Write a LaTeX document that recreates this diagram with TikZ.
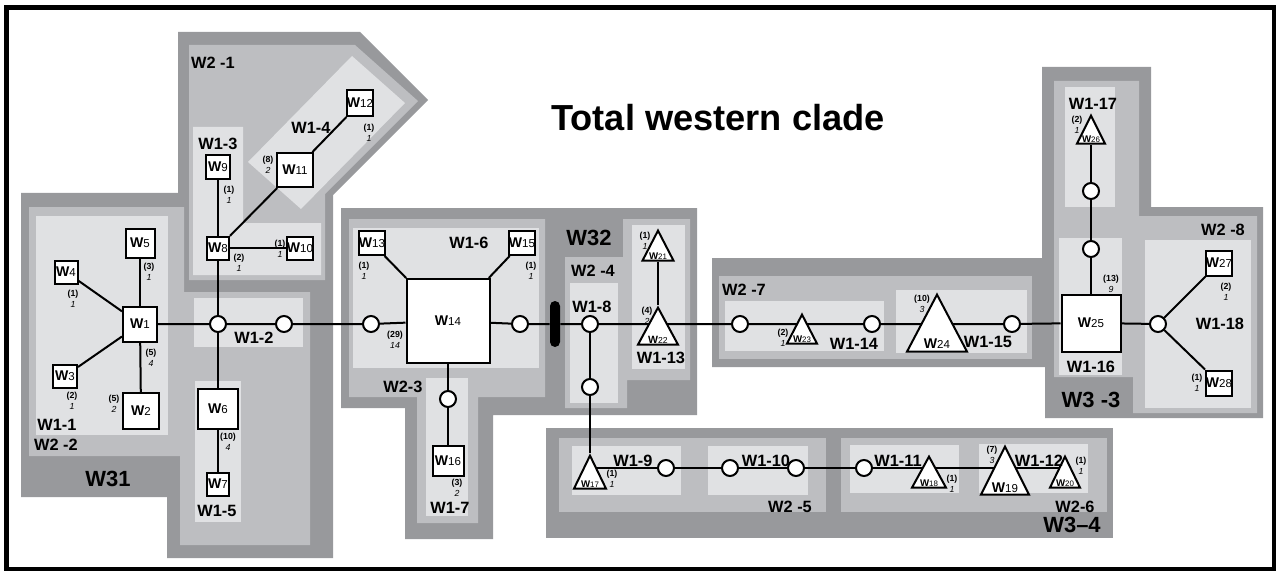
\documentclass[tikz,border=0pt]{standalone}
\usepackage{fontspec}
\setmainfont{Liberation Sans}
\usetikzlibrary{shapes.geometric}
\definecolor{grisosc}{RGB}{152,153,156}
\definecolor{grismed}{RGB}{189,190,193}
\definecolor{grisclr}{RGB}{224,225,227}
\pgfdeclarelayer{fondo}
\pgfdeclarelayer{lineas}
\pgfsetlayers{fondo,lineas,main}
\newcommand{\Wn}[1]{\textbf{W}\scalebox{0.82}{#1}}

\begin{document}
\begin{tikzpicture}[
  x=0.2mm, y=-0.2mm,
  cuad/.style 2 args={draw, fill=white, line width=0.4mm, inner sep=0pt,
    minimum width=#1*0.2mm, minimum height=#2*0.2mm, font=\fontsize{8}{9}\selectfont},
  circ/.style={circle, draw, fill=white, line width=0.4mm, inner sep=0pt, minimum size=3.2mm},
  tri/.style 2 args={isosceles triangle, isosceles triangle stretches, shape border rotate=90,
    draw, fill=white, line width=0.4mm, inner sep=0pt, anchor=apex,
    minimum width=#1*0.2mm, minimum height=#2*0.2mm},
  trilab/.style={anchor=south, inner sep=0.8pt, font=\fontsize{6}{7}\selectfont},
  rama/.style={line width=0.4mm},
  zona/.style={font=\fontsize{9.3}{10}\selectfont\bfseries, inner sep=0pt},
  grupo/.style={font=\fontsize{12.5}{14}\selectfont\bfseries, inner sep=0pt},
  etiq/.style={font=\fontsize{5}{6.5}\selectfont\bfseries, align=center, inner sep=0pt}
]
  \useasboundingbox (0,0) rectangle (1277,571);

  \begin{pgfonlayer}{fondo}
  % --- zonas W3 (gris oscuro)
  \fill[grisosc] (21,193) -- (178,193) -- (178,32) -- (360,32) -- (428,100) -- (333,195)
    -- (333,558) -- (167,558) -- (167,497) -- (21,497) -- cycle;
  \fill[grisosc] (341,208) -- (697,208) -- (697,415) -- (493,415) -- (493,539) -- (405,539)
    -- (405,408) -- (341,408) -- cycle;
  \fill[grisosc] (712,258) -- (1042,258) -- (1042,67) -- (1151,67) -- (1151,207) -- (1263,207)
    -- (1263,418) -- (1045,418) -- (1045,367) -- (712,367) -- cycle;
  \fill[grisosc] (546,428) rectangle (1113,538);

  % --- zonas W2
  \fill[grismed] (189,45) -- (355,45) -- (418,101) -- (325,194) -- (325,280) -- (189,280) -- cycle;
  \fill[grismed] (29,207) -- (184,207) -- (184,292) -- (310,292) -- (310,545) -- (180,545)
    -- (180,456) -- (29,456) -- cycle;
  \fill[grismed] (349,219) -- (545,219) -- (545,397) -- (478,397) -- (478,523) -- (417,523)
    -- (417,397) -- (349,397) -- cycle;
  \fill[grismed] (565,257) -- (623,257) -- (623,219) -- (690,219) -- (690,380) -- (627,380)
    -- (627,408) -- (565,408) -- cycle;
  \fill[grismed] (719,276) rectangle (1032,359);
  \fill[grismed] (1054,81) -- (1139,81) -- (1139,216) -- (1257,216) -- (1257,413) -- (1133,413)
    -- (1133,377) -- (1054,377) -- cycle;
  \fill[grismed] (559,438) rectangle (826,512);
  \fill[grismed] (841,438) rectangle (1107,512);

  % --- zonas W1
  \fill[grisclr] (36,216) rectangle (168,435);
  \fill[grisclr] (194,298) rectangle (303,347);
  \fill[grisclr] (193,127) -- (243,127) -- (243,223) -- (321,223) -- (321,275) -- (193,275) -- cycle;
  \fill[grisclr] (248,162) -- (352,56) -- (405,103) -- (301,209) -- cycle;
  \fill[grisclr] (195,381) rectangle (241,522);
  \fill[grisclr] (353,228) rectangle (539,368);
  \fill[grisclr] (426,378) rectangle (468,516);
  \fill[grisclr] (570,283) rectangle (618,403);
  \fill[grisclr] (632,225) rectangle (685,369);
  \fill[grisclr] (725,301) rectangle (884,351);
  \fill[grisclr] (896,290) rectangle (1027,353);
  \fill[grisclr] (1059,238) rectangle (1122,375);
  \fill[grisclr] (1065,87) rectangle (1115,207);
  \fill[grisclr] (1145,240) rectangle (1251,408);
  \fill[grisclr] (572,446) rectangle (681,495);
  \fill[grisclr] (708,446) rectangle (808,495);
  \fill[grisclr] (850,445) rectangle (959,493);
  \fill[grisclr] (979,444) rectangle (1088,493);
  \end{pgfonlayer}

  % --- marco
  \draw[line width=0.9mm] (6.5,7.5) rectangle (1274,569.5);

  % --- titulo
  \node[font=\fontsize{20.6}{24}\selectfont\bfseries] (titulo) at (718,118) {Total western clade};

  % --- W31
  \node[cuad={34}{35}] (W1) at (140,324) {\Wn{1}};
  \node[cuad={36}{36}] (W2) at (141,411) {\Wn{2}};
  \node[cuad={24}{23}] (W3) at (65,376) {\Wn{3}};
  \node[cuad={23}{23}] (W4) at (66,272) {\Wn{4}};
  \node[cuad={29}{29}] (W5) at (140,243) {\Wn{5}};
  \node[cuad={40}{40}] (W6) at (218,409) {\Wn{6}};
  \node[cuad={22}{23}] (W7) at (218,484) {\Wn{7}};
  \node[cuad={22}{23}] (W8) at (218,248) {\Wn{8}};
  \node[cuad={24}{24}] (W9) at (218,167) {\Wn{9}};
  \node[cuad={26}{23}] (W10) at (300,248) {\Wn{10}};
  \node[cuad={36}{34}] (W11) at (295,170) {\Wn{11}};
  \node[cuad={26}{26}] (W12) at (360,103) {\Wn{12}};
  \node[circ] (c1) at (218,324) {};
  \node[circ] (c2) at (284,324) {};

  % --- W32
  \node[circ] (c3) at (371,324) {};
  \node[cuad={83}{84}] (W14) at (448,321) {\Wn{14}};
  \node[cuad={26}{24}] (W13) at (372,243) {\Wn{13}};
  \node[cuad={25}{24}] (W15) at (522,243) {\Wn{15}};
  \node[circ] (c4) at (520,324) {};
  \node[fill=black, rounded corners=1mm, minimum width=2mm, minimum height=9.2mm,
        inner sep=0pt] (barra) at (555,324) {};
  \node[circ] (c7) at (448,399) {};
  \node[cuad={31}{30}] (W16) at (448,461) {\Wn{16}};
  \node[circ] (c5) at (590,324) {};
  \node[circ] (c6) at (590,387) {};
  \node[tri={31}{30}, label={[trilab, font=\fontsize{5.5}{6}\selectfont]below:\Wn{21}}] (W21) at (658,228) {};
  \node[tri={40}{37}, label={[trilab]below:\Wn{22}}] (W22) at (658,305) {};

  % --- W3-3
  \node[circ] (c8) at (740,324) {};
  \node[tri={30}{29}, label={[trilab, font=\fontsize{5.5}{6}\selectfont]below:\Wn{23}}] (W23) at (802,312) {};
  \node[circ] (c9) at (872,324) {};
  \node[tri={60}{57}, label={[trilab, font=\fontsize{8}{9}\selectfont, inner sep=2pt]below:\Wn{24}}] (W24) at (937,292) {};
  \node[circ] (c10) at (1012,324) {};
  \node[cuad={59}{57}] (W25) at (1091,323) {\Wn{25}};
  \node[circ] (c11) at (1158,324) {};
  \node[circ] (c13) at (1091,249) {};
  \node[circ] (c12) at (1091,191) {};
  \node[tri={28}{28}, label={[trilab, font=\fontsize{5.5}{6}\selectfont]below:\Wn{26}}] (W26) at (1091,113) {};
  \node[cuad={26}{25}] (W27) at (1219,263) {\Wn{27}};
  \node[cuad={26}{25}] (W28) at (1219,383) {\Wn{28}};

  % --- W3-4
  \node[tri={32}{33}, label={[trilab, font=\fontsize{5.5}{6}\selectfont]below:\Wn{17}}] (W17) at (590,453) {};
  \node[circ] (c14) at (666,468) {};
  \node[circ] (c15) at (730,468) {};
  \node[circ] (c16) at (796,468) {};
  \node[circ] (c17) at (864,468) {};
  \node[tri={34}{31}, label={[trilab, font=\fontsize{5.5}{6}\selectfont]below:\Wn{18}}] (W18) at (929,454) {};
  \node[tri={48}{48}, label={[trilab, font=\fontsize{8}{9}\selectfont, inner sep=1.5pt]below:\Wn{19}}] (W19) at (1005,444) {};
  \node[tri={30}{31}, label={[trilab, font=\fontsize{5.5}{6}\selectfont]below:\Wn{20}}] (W20) at (1065,454) {};

  % --- ramas
  \begin{pgfonlayer}{lineas}
  \draw[rama] (W1) -- (W4);
  \draw[rama] (W1) -- (W5);
  \draw[rama] (W1) -- (W3);
  \draw[rama] (W1) -- (W2);
  \draw[rama] (c1) -- (W8);
  \draw[rama] (c1) -- (W6) -- (W7);
  \draw[rama] (W8) -- (W9);
  \draw[rama] (W8) -- (W10);
  \draw[rama] (W8) -- (W11) -- (W12);
  \draw[rama] (W1) -- (c1) -- (c2) -- (c3) -- (W14) -- (c4) -- (barra) -- (c5)
    -- (c5 -| W22.apex) -- (c8) -- (c8 -| W23.apex) -- (c9) -- (c9 -| W24.apex)
    -- (c10) -- (W25) -- (c11);
  \draw[rama] (W14) -- (W13);
  \draw[rama] (W14) -- (W15);
  \draw[rama] (W14) -- (c7) -- (W16);
  \draw[rama] (c5) -- (c6) -- (W17.apex);
  \draw[rama] (W21.lower side) -- (W22.apex);
  \draw[rama] (W25) -- (c13) -- (c12) -- (W26.lower side);
  \draw[rama] (c11) -- (W27);
  \draw[rama] (c11) -- (W28);
  \draw[rama] (W17.apex |- c14) -- (c14) -- (c15) -- (c16) -- (c17) -- (W18.apex |- c17)
    -- (W19.apex |- c17) -- (W20.apex |- c17);
  \end{pgfonlayer}

  % --- etiquetas de ramas
  \node[etiq] (e4) at (73,299) {(1)\\{\mdseries\itshape 1}};
  \node[etiq] (e5) at (149,272) {(3)\\{\mdseries\itshape 1}};
  \node[etiq] (e1) at (151,358) {(5)\\{\mdseries\itshape 4}};
  \node[etiq] (e3) at (72,401) {(2)\\{\mdseries\itshape 1}};
  \node[etiq] (e2) at (114,404) {(5)\\{\mdseries\itshape 2}};
  \node[etiq] (e7) at (228,442) {(10)\\{\mdseries\itshape 4}};
  \node[etiq] (e9) at (229,195) {(1)\\{\mdseries\itshape 1}};
  \node[etiq] (e10) at (280,249) {(1)\\{\mdseries\itshape 1}};
  \node[etiq] (e8) at (239,263) {(2)\\{\mdseries\itshape 1}};
  \node[etiq] (e11) at (268,165) {(8)\\{\mdseries\itshape 2}};
  \node[etiq] (e12) at (369,133) {(1)\\{\mdseries\itshape 1}};
  \node[etiq] (e13) at (364,271) {(1)\\{\mdseries\itshape 1}};
  \node[etiq] (e15) at (531,271) {(1)\\{\mdseries\itshape 1}};
  \node[etiq] (e14) at (395,340) {(29)\\{\mdseries\itshape 14}};
  \node[etiq] (e16) at (457,488) {(3)\\{\mdseries\itshape 2}};
  \node[etiq] (e21) at (645,241) {(1)\\{\mdseries\itshape 1}};
  \node[etiq] (e22) at (647,316) {(4)\\{\mdseries\itshape 2}};
  \node[etiq] (e23) at (783,338) {(2)\\{\mdseries\itshape 1}};
  \node[etiq] (e24) at (922,304) {(10)\\{\mdseries\itshape 3}};
  \node[etiq] (e25) at (1111,284) {(13)\\{\mdseries\itshape 9}};
  \node[etiq] (e26) at (1077,125) {(2)\\{\mdseries\itshape 1}};
  \node[etiq] (e27) at (1226,292) {(2)\\{\mdseries\itshape 1}};
  \node[etiq] (e28) at (1197,383) {(1)\\{\mdseries\itshape 1}};
  \node[etiq] (e17) at (612,479) {(1)\\{\mdseries\itshape 1}};
  \node[etiq] (e18) at (952,484) {(1)\\{\mdseries\itshape 1}};
  \node[etiq] (e19) at (992,455) {(7)\\{\mdseries\itshape 3}};
  \node[etiq] (e20) at (1081,466) {(1)\\{\mdseries\itshape 1}};

  % --- nombres de zonas
  \node[zona] (z21) at (213,63) {W2 -1};
  \node[zona] (z13) at (218,144) {W1-3};
  \node[zona] (z14) at (311,128) {W1-4};
  \node[zona] (z11) at (57,425) {W1-1};
  \node[zona] (z22) at (56,445) {W2 -2};
  \node[zona] (z12) at (254,338) {W1-2};
  \node[zona] (z15) at (217,511) {W1-5};
  \node[zona] (z16) at (469,243) {W1-6};
  \node[zona] (z23) at (403,387) {W2-3};
  \node[zona] (z17) at (450,508) {W1-7};
  \node[zona] (z24) at (593,271) {W2 -4};
  \node[zona] (z18) at (592,307) {W1-8};
  \node[zona] (z113) at (661,358) {W1-13};
  \node[zona] (z27) at (744,290) {W2 -7};
  \node[zona] (z114) at (854,344) {W1-14};
  \node[zona] (z115) at (988,342) {W1-15};
  \node[zona] (z116) at (1091,367) {W1-16};
  \node[zona] (z117) at (1093,104) {W1-17};
  \node[zona] (z28) at (1223,230) {W2 -8};
  \node[zona] (z118) at (1220,324) {W1-18};
  \node[zona] (z19) at (633,461) {W1-9};
  \node[zona] (z110) at (766,461) {W1-10};
  \node[zona] (z25) at (790,507) {W2 -5};
  \node[zona] (z111) at (898,461) {W1-11};
  \node[zona] (z112) at (1039,461) {W1-12};
  \node[zona] (z26) at (1075,507) {W2-6};
  \node[grupo] (g31) at (108,479) {W31};
  \node[grupo] (g32) at (589,238) {W32};
  \node[grupo] (g33) at (1091,400) {W3 -3};
  \node[grupo] (g34) at (1072,525) {W3--4};
\end{tikzpicture}
\end{document}
